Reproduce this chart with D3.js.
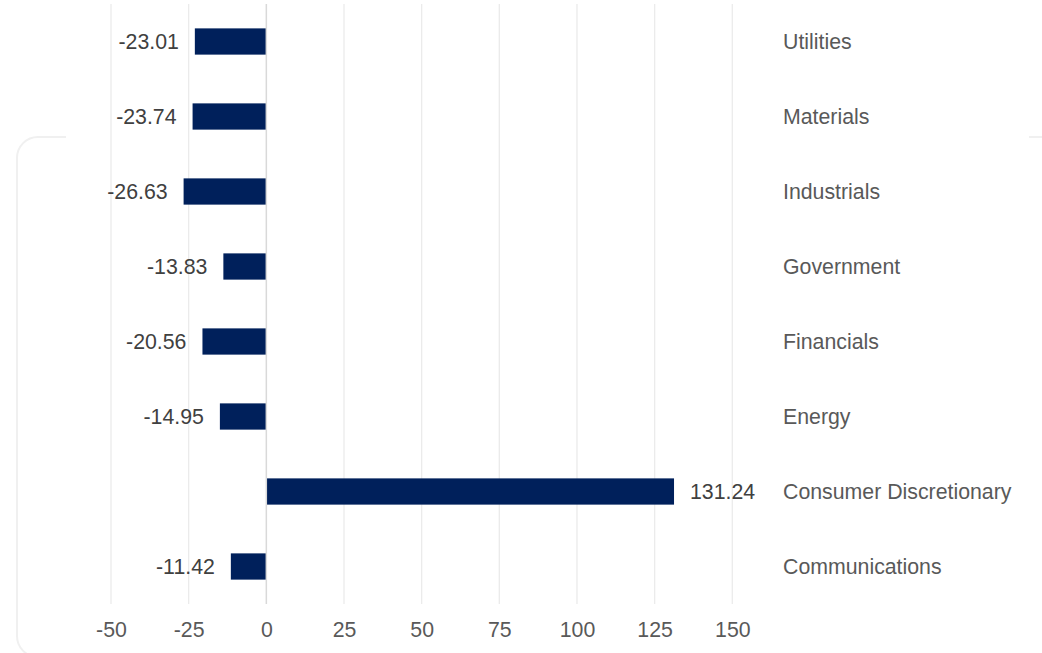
<!DOCTYPE html>
<html>
<head>
<meta charset="utf-8">
<script src="https://cdn.jsdelivr.net/npm/d3@7/dist/d3.min.js"></script>
<style>
  html, body { margin: 0; padding: 0; background: #ffffff; }
  svg { display: block; font-family: "Liberation Sans", Arial, sans-serif; }
</style>
</head>
<body>
<svg id="chart" width="1042" height="653"></svg>
<script>
const categories = ["Utilities", "Materials", "Industrials", "Government", "Financials", "Energy", "Consumer Discretionary", "Communications"];
const values = [-23.01, -23.74, -26.63, -13.83, -20.56, -14.95, 131.24, -11.42];
const tickValues = [-50, -25, 0, 25, 50, 75, 100, 125, 150];

const data = categories.map((c, i) => ({ category: c, value: values[i] }));

const svg = d3.select("#chart");

// background rounded frame
svg.append("rect")
  .attr("x", 17).attr("y", 137)
  .attr("width", 1045).attr("height", 520)
  .attr("rx", 21).attr("ry", 21)
  .attr("fill", "none")
  .attr("stroke", "#f0f0f0")
  .attr("stroke-width", 2);

svg.append("rect")
  .attr("x", 66).attr("y", 0)
  .attr("width", 963).attr("height", 142)
  .attr("fill", "#ffffff");

const x = d3.scaleLinear().domain([-50, 150]).range([111, 732.3]);
const y = d3.scaleBand().domain(categories).range([4, 604])
  .paddingInner(0.65).paddingOuter(0.325);

// grid lines
svg.append("g").selectAll("line")
  .data(tickValues.filter(t => t !== 0))
  .join("line")
  .attr("x1", d => x(d)).attr("x2", d => x(d))
  .attr("y1", 4).attr("y2", 604)
  .attr("stroke", "#ebebeb").attr("stroke-width", 1.3);

// bars
svg.append("g").selectAll("rect")
  .data(data)
  .join("rect")
  .attr("x", d => Math.min(x(0), x(d.value)))
  .attr("y", d => y(d.category))
  .attr("width", d => Math.abs(x(d.value) - x(0)))
  .attr("height", y.bandwidth())
  .attr("fill", "#00205b");

// zero line
svg.append("line")
  .attr("x1", x(0)).attr("x2", x(0))
  .attr("y1", 4).attr("y2", 604)
  .attr("stroke", "#d9d9d9").attr("stroke-width", 1.5);

// x axis tick labels
const xAxis = d3.axisBottom(x).tickValues(tickValues).tickSize(0).tickPadding(0)
  .tickFormat(d => String(d));
const gx = svg.append("g").attr("transform", "translate(0,622)").call(xAxis);
gx.select(".domain").remove();
gx.attr("font-family", null).attr("font-size", null);
gx.selectAll("text")
  .attr("fill", "#595959")
  .attr("font-size", "21.3px");

// value labels
svg.append("g").selectAll("text")
  .data(data)
  .join("text")
  .attr("x", d => d.value < 0 ? x(d.value) - 16 : x(d.value) + 16)
  .attr("y", d => y(d.category) + y.bandwidth() / 2)
  .attr("dy", "0.35em")
  .attr("text-anchor", d => d.value < 0 ? "end" : "start")
  .attr("font-size", "21.3px")
  .attr("fill", "#404040")
  .text(d => d.value.toFixed(2));

// category labels
svg.append("g").selectAll("text")
  .data(data)
  .join("text")
  .attr("x", 783)
  .attr("y", d => y(d.category) + y.bandwidth() / 2)
  .attr("dy", "0.35em")
  .attr("text-anchor", "start")
  .attr("font-size", "21.3px")
  .attr("fill", "#595959")
  .text(d => d.category);
</script>
</body>
</html>
